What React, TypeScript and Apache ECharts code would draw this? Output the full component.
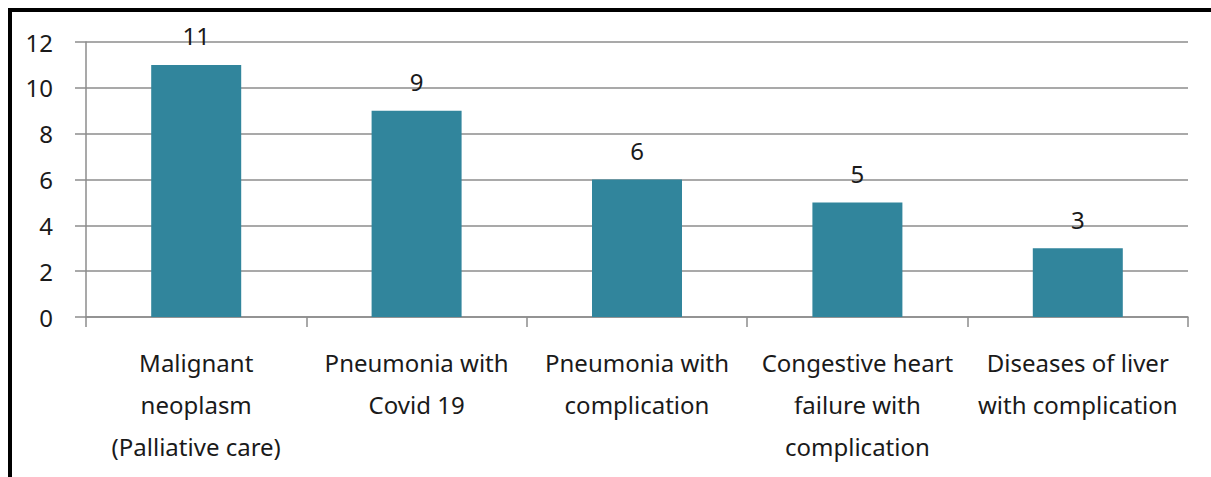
import React, { useEffect, useRef } from "react";
import * as echarts from "echarts";

const categories = [
  "Malignant\nneoplasm\n(Palliative care)",
  "Pneumonia with\nCovid 19",
  "Pneumonia with\ncomplication",
  "Congestive heart\nfailure with\ncomplication",
  "Diseases of liver\nwith complication",
];
const values = [11, 9, 6, 5, 3];
const yMin = 0;
const yMax = 12;
const yStep = 2;

const FONT = "'Noto Sans', sans-serif";
const GRAY = "#8c8c8c";

export default function App() {
  const ref = useRef<HTMLDivElement>(null);
  useEffect(() => {
    if (!ref.current) return;
    const chart = echarts.init(ref.current, undefined, { renderer: "svg" });
    chart.setOption({
      animation: false,
      backgroundColor: "#ffffff",
      grid: { left: 86, right: 23, top: 42, bottom: 160, containLabel: false },
      xAxis: {
        type: "category",
        data: categories,
        axisLine: { show: true, lineStyle: { color: GRAY, width: 1.5 } },
        axisTick: { show: true, length: 10, lineStyle: { color: GRAY, width: 1.5 } },
        axisLabel: {
          color: "#1a1a1a",
          fontFamily: FONT,
          fontSize: 24,
          lineHeight: 42,
          margin: 24,
          interval: 0,
        },
      },
      yAxis: {
        type: "value",
        min: yMin,
        max: yMax,
        interval: yStep,
        axisLine: { show: true, lineStyle: { color: GRAY, width: 1.5 } },
        axisTick: { show: true, length: 11, lineStyle: { color: GRAY, width: 1.5 } },
        splitLine: { show: true, lineStyle: { color: GRAY, width: 1.5 } },
        axisLabel: {
          color: "#1a1a1a",
          fontFamily: FONT,
          fontSize: 24,
          margin: 33,
        },
      },
      series: [
        {
          type: "bar",
          data: values,
          barWidth: 90,
          itemStyle: { color: "#31859c" },
          label: {
            show: true,
            position: "top",
            distance: 17,
            color: "#1a1a1a",
            fontFamily: FONT,
            fontSize: 24,
          },
        },
      ],
      graphic: [
        { type: "rect", shape: { x: 8, y: 8, width: 1203, height: 4 }, style: { fill: "#000" } },
        { type: "rect", shape: { x: 8, y: 8, width: 4, height: 469 }, style: { fill: "#000" } },
      ],
    });
    return () => chart.dispose();
  }, []);
  return (
    <div
      ref={ref}
      style={{ position: "fixed", left: 0, top: 0, width: 1211, height: 477 }}
    />
  );
}
